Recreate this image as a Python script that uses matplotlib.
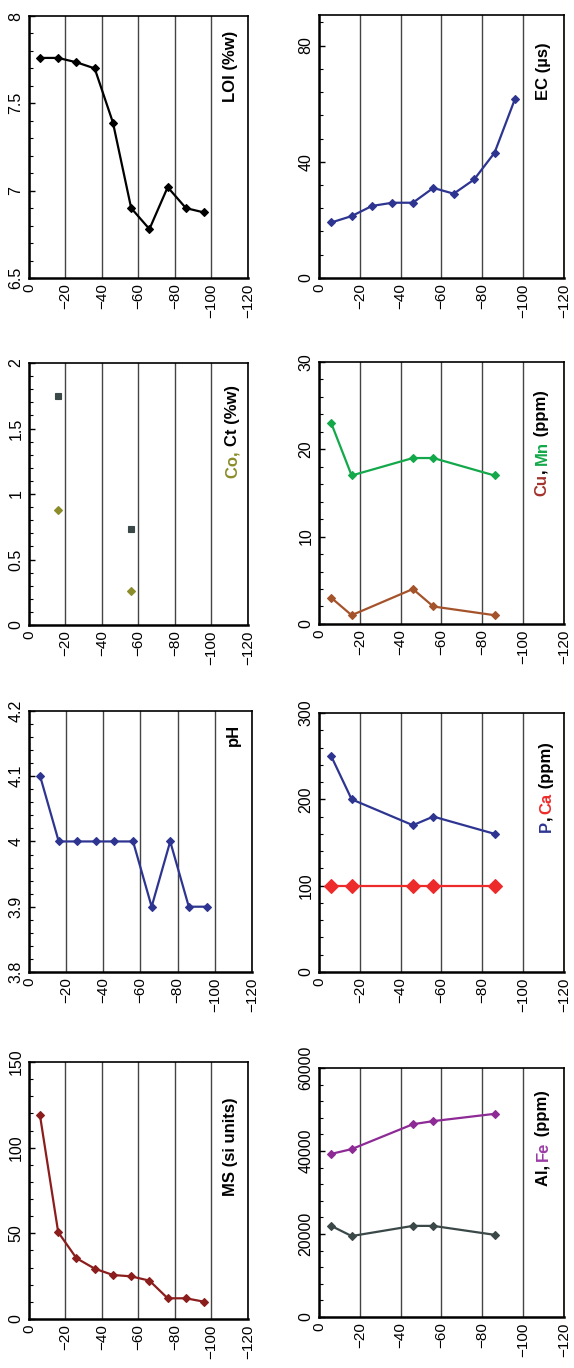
import matplotlib
matplotlib.use("Agg")
import matplotlib.pyplot as plt
from matplotlib.ticker import MultipleLocator, FormatStrFormatter

plt.rcParams["font.family"] = ["Liberation Sans", "DejaVu Sans"]

# sample depths (cm)
depth_full = [-6, -16, -26, -36, -46, -56, -66, -76, -86, -96]
depth_part = [-6, -16, -46, -56, -86]
depth_c = [-16, -56]

loi = [7.76, 7.76, 7.735, 7.70, 7.39, 6.90, 6.78, 7.02, 6.90, 6.875]
ec = [19.1, 21.3, 24.8, 25.9, 25.9, 31.0, 29.0, 33.9, 43.1, 61.6]
co = [0.88, 0.26]
ct = [1.75, 0.73]
cu = [3, 1, 4, 2, 1]
mn = [23, 17, 19, 19, 17]
ph = [4.1, 4.0, 4.0, 4.0, 4.0, 4.0, 3.9, 4.0, 3.9, 3.9]
p = [250, 200, 170, 180, 160]
ca = [100, 100, 100, 100, 100]
ms = [119, 50.7, 35.5, 29.4, 25.7, 24.9, 22.4, 12.1, 12.1, 10.1]
al = [21950, 19500, 21950, 21950, 19800]
fe = [39300, 40450, 46450, 47200, 48950]

NAVY = "#2e3591"
fig = plt.figure(figsize=(5.74, 13.68), dpi=100)


def make_axes(rect, ylim, major, minor):
    ax = fig.add_axes(rect)
    ax.set_xlim(0, -120)
    ax.set_ylim(*ylim)
    ax.xaxis.set_major_locator(MultipleLocator(20))
    ax.yaxis.set_major_locator(MultipleLocator(major))
    ax.yaxis.set_minor_locator(MultipleLocator(minor))
    ax.yaxis.set_major_formatter(FormatStrFormatter("%g"))
    ax.grid(True, axis="x", color="#444444", linewidth=1.0)
    ax.set_axisbelow(True)
    ax.tick_params(axis="x", length=0, labelsize=11, rotation=90, pad=4)
    ax.tick_params(axis="y", which="major", direction="in", length=4, width=1,
                   labelsize=11.5, pad=4)
    ax.tick_params(axis="y", which="minor", direction="in", length=3, width=0.8)
    for lab in ax.get_yticklabels():
        lab.set_rotation(90)
        lab.set_va("center")
    for side in ("left", "bottom"):
        ax.spines[side].set_linewidth(1.8)
    for side in ("top", "right"):
        ax.spines[side].set_linewidth(1.2)
    return ax


def series(ax, x, y, color, ms=4.5, marker="D", lw=1.6, line=True):
    ax.plot(x, y, color=color, marker=marker, markersize=ms, linewidth=lw if line else 0,
            markeredgecolor=color, markeredgewidth=0.8)


def label(ax, x, ytop, parts):
    # multi-coloured rotated label, read bottom to top, top end at ytop (axes coords)
    fig.canvas.draw()
    renderer = fig.canvas.get_renderer()
    kw = dict(rotation=90, fontsize=12, fontweight="bold", ha="center", va="bottom",
              transform=ax.transAxes)

    def length(s):
        t = ax.text(x, 0, s + "|", **kw)
        h = t.get_window_extent(renderer).height
        t.remove()
        return h

    bar = length("")
    full = "".join(s for s, _ in parts)
    total = length(full) - bar
    x_px, top_px = ax.transAxes.transform((x, ytop))
    start = top_px - total
    inv = ax.transAxes.inverted()
    prefix = ""
    for s, c in parts:
        offset = length(prefix) - bar if prefix else 0.0
        ax.text(*inv.transform((x_px, start + offset)), s, color=c, **kw)
        prefix += s


ax1 = make_axes([0.0505, 0.7968, 0.3815, 0.1915], (6.5, 8), 0.5, 0.1)
series(ax1, depth_full, loi, "black")
label(ax1, 0.92, 0.945, [("LOI (%w)", "black")])

ax2 = make_axes([0.5557, 0.7968, 0.4268, 0.1922], (0, 90.5), 40, 8)
series(ax2, depth_full, ec, NAVY)
label(ax2, 0.915, 0.895, [("EC (\u00b5s)", "black")])

ax3 = make_axes([0.0505, 0.5431, 0.3815, 0.1915], (0, 2), 0.5, 0.1)
series(ax3, depth_c, ct, "#3b4848", ms=5, marker="s", line=False)
series(ax3, depth_c, co, "#8c8c2a", ms=4.5, marker="D", line=False)
label(ax3, 0.93, 0.915, [("Co, ", "#8c8c2a"), ("Ct (%w)", "black")])

ax4 = make_axes([0.5557, 0.5439, 0.4268, 0.1915], (0, 30), 10, 2)
series(ax4, depth_part, mn, "#13a84a")
series(ax4, depth_part, cu, "#a4532b")
label(ax4, 0.91, 0.893, [("Cu", "#a3322b"), (", ", "black"), ("Mn", "#13a84a"),
                         (" (ppm)", "black")])

ax5 = make_axes([0.0505, 0.2895, 0.3885, 0.1908], (3.8, 4.2), 0.1, 0.02)
series(ax5, depth_full, ph, NAVY)
label(ax5, 0.915, 0.95, [("pH", "black")])

ax6 = make_axes([0.5557, 0.2895, 0.4268, 0.1893], (0, 300), 100, 20)
series(ax6, depth_part, p, NAVY)
series(ax6, depth_part, ca, "#ee2b2b", ms=7)
label(ax6, 0.93, 0.888, [("P", NAVY), (", ", "black"), ("Ca", "#ee2b2b"),
                         (" (ppm)", "black")])

ax7 = make_axes([0.0505, 0.0358, 0.3815, 0.1879], (0, 150), 50, 10)
series(ax7, depth_full, ms, "#8b1d1d")
label(ax7, 0.92, 0.864, [("MS (si units)", "black")])

ax8 = make_axes([0.5557, 0.0373, 0.4268, 0.1820], (0, 60000), 20000, 4000)
series(ax8, depth_part, fe, "#8e2a96")
series(ax8, depth_part, al, "#3b4848")
label(ax8, 0.914, 0.91, [("Al, ", "black"), ("Fe", "#9a3ca4"), (" (ppm)", "black")])

fig.savefig("out.png", dpi=100)
